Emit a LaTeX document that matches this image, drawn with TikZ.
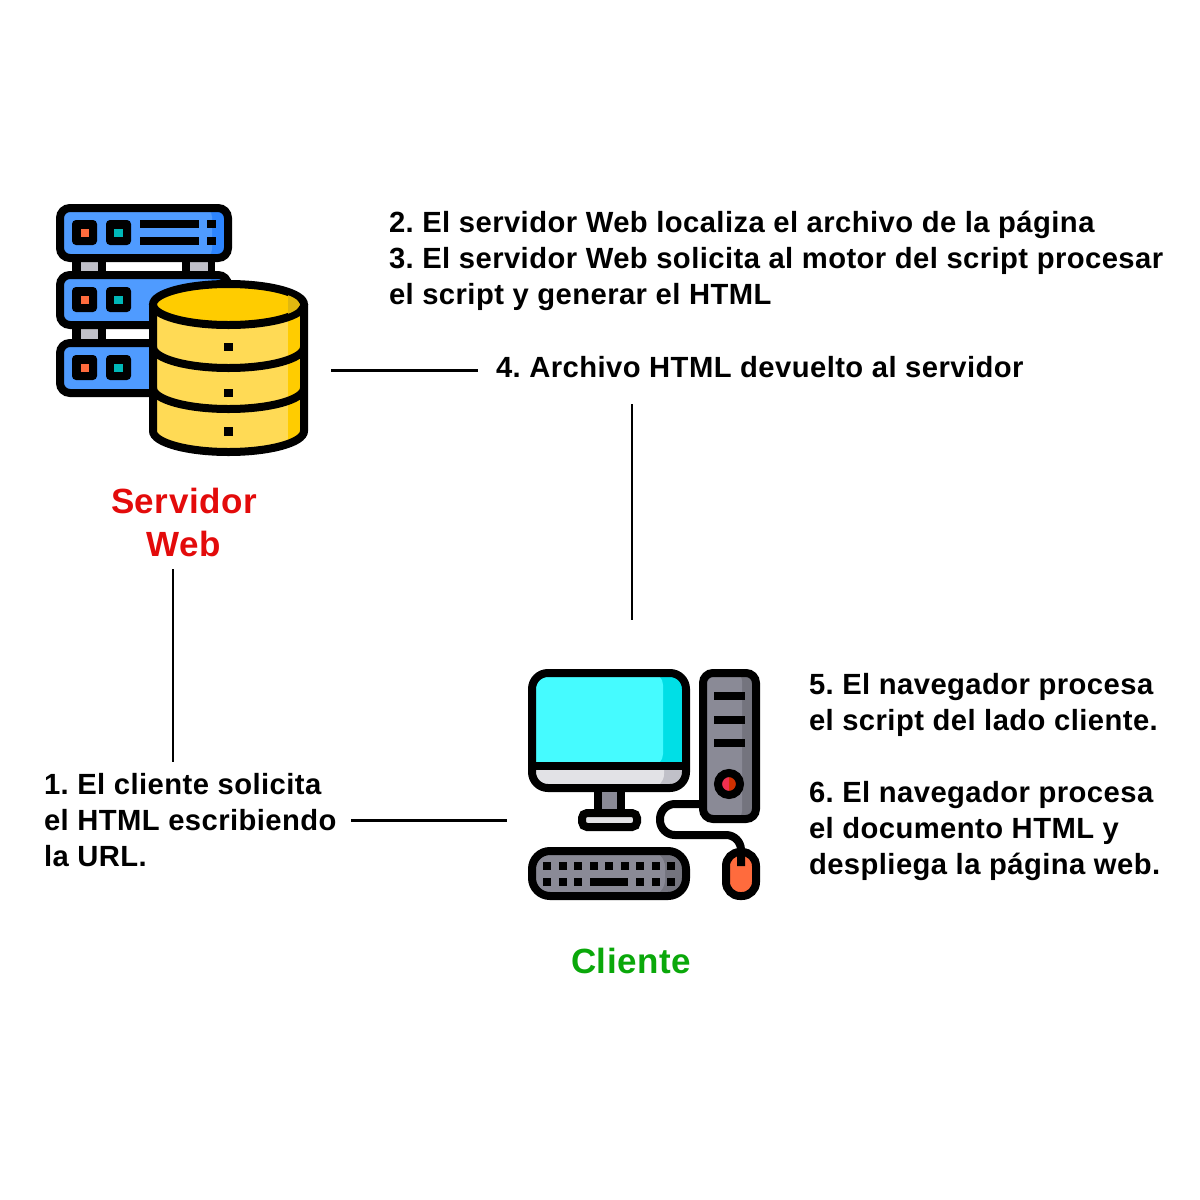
\documentclass[tikz,border=0pt]{standalone}
\usepackage{fontspec}
\setmainfont[LetterSpace=1.5]{Liberation Sans}
\definecolor{rackblue}{HTML}{4F9BFF}
\definecolor{rackdark}{HTML}{2D85FF}
\definecolor{dbtop}{HTML}{FFCC00}
\definecolor{dbshade}{HTML}{E0B810}
\definecolor{dbbody}{HTML}{FFDA55}
\definecolor{screencyan}{HTML}{45FBFF}
\definecolor{screendark}{HTML}{00DFE6}
\definecolor{pcgrey}{HTML}{8A8A96}
\definecolor{pcdark}{HTML}{74747E}
\definecolor{pclight}{HTML}{E2E2E6}
\definecolor{pcmid}{HTML}{C0C0C8}
\definecolor{ledred}{HTML}{F03050}
\definecolor{leddark}{HTML}{D03000}
\definecolor{ledorange}{HTML}{FF6B3D}
\definecolor{ledteal}{HTML}{00B8B8}
\definecolor{titlered}{HTML}{E30B0B}
\definecolor{titlegreen}{HTML}{0AA80A}
\frenchspacing
\begin{document}
\begin{tikzpicture}[x=1pt, y=-1pt,
      every node/.style = {inner sep=0pt, outer sep=0pt},
      step text/.style = {anchor=north west, align=left, font=\fontsize{29.2}{36}\selectfont\bfseries},
      title/.style = {anchor=north, align=center, font=\fontsize{35}{43}\selectfont\bfseries},
      link/.style = {line width=2.8pt},
      outline/.style = {line width=8pt, draw=black},
      solid key/.style = {fill=black}]
    \useasboundingbox (0, 0) rectangle (1200, 1200);

    % server racks
    \fill[black] (72, 262) rectangle (106, 271);
    \fill[black] (182, 262) rectangle (215, 271);
    \fill[black] (72, 329) rectangle (106, 339);
    \fill[pcmid] (81, 262) rectangle (98, 271);
    \fill[pcmid] (190, 262) rectangle (208, 271);
    \fill[pcmid] (81, 329) rectangle (98, 339);
    \foreach \top in {204, 271, 339} {
      \fill[rackdark, rounded corners=9] (60, \top+4) rectangle (228, \top+54);
      \fill[rackblue, rounded corners=9] (60, \top+4) rectangle (212, \top+54);
      \draw[outline, rounded corners=10] (60, \top+4) rectangle (228, \top+54);
      \fill[black, rounded corners=4] (72, \top+16) rectangle (97, \top+41);
      \fill[black, rounded corners=4] (106, \top+16) rectangle (131, \top+41);
      \fill[ledorange] (81, \top+25) rectangle (89, \top+33);
      \fill[ledteal] (114, \top+25) rectangle (123, \top+33);
    }
    \fill[solid key] (140, 220) rectangle (199, 228);
    \fill[solid key] (140, 237) rectangle (199, 245);
    \fill[solid key] (207, 220) rectangle (216, 228);
    \fill[solid key] (207, 237) rectangle (216, 245);

    % database
    \path[fill=dbbody] (153, 304) -- (153, 431) arc[start angle=180, end angle=0, x radius=75.5, y radius=21]
      -- (304, 304) -- cycle;
    \path[fill=dbtop] (288, 320) -- (288, 446) -- (300, 440) -- (300, 310) -- cycle;
    \draw[outline, fill=dbtop] (228.5, 304.5) ellipse[x radius=75.5, y radius=20.5];
    \begin{scope}
      \clip (228.5, 304.5) ellipse[x radius=71, y radius=17];
      \fill[dbshade] (288, 285) rectangle (304, 325);
    \end{scope}
    \draw[outline] (153, 304) -- (153, 431) arc[start angle=180, end angle=0, x radius=75.5, y radius=21] -- (304, 304);
    \draw[outline] (153, 347) arc[start angle=180, end angle=0, x radius=75.5, y radius=21];
    \draw[outline] (153, 388) arc[start angle=180, end angle=0, x radius=75.5, y radius=21];
    \fill[solid key] (224, 343) rectangle (233, 351);
    \fill[solid key] (224, 389) rectangle (233, 397);
    \fill[solid key] (224, 427) rectangle (233, 436);

    % monitor
    \fill[pcmid, rounded corners=14] (532, 673) rectangle (686, 788);
    \fill[pclight, rounded corners=14] (532, 673) rectangle (664, 788);
    \fill[screendark, rounded corners=14] (532, 673) -- (686, 673) -- (686, 766) -- (532, 766) -- cycle;
    \fill[screencyan, rounded corners=12] (532, 673) -- (663, 673) -- (663, 766) -- (532, 766) -- cycle;
    \fill[screencyan] (532, 700) rectangle (650, 766);
    \draw[outline, rounded corners=16] (532, 673) rectangle (686, 788);
    \draw[outline] (532, 766) -- (686, 766);
    \fill[pcgrey, draw=black, line width=8pt] (598, 788) rectangle (621, 813);
    \fill[pclight, draw=black, line width=8pt, rounded corners=5] (582, 813) rectangle (637, 827);

    % tower
    \fill[pcdark, rounded corners=8] (703, 673) rectangle (756, 819);
    \fill[pcgrey, rounded corners=8] (703, 673) rectangle (742, 819);
    \draw[outline, rounded corners=10] (703, 673) rectangle (756, 819);
    \foreach \top in {692, 716, 739}
      \fill[solid key] (714, \top) rectangle (745, \top+8);
    \fill[ledred] (729, 784) circle (9);
    \fill[leddark] (729, 775) arc[start angle=-90, end angle=90, radius=9] -- cycle;
    \draw[outline] (729, 784) circle (11);

    % cable and mouse
    \fill[ledorange, rounded corners=13] (726, 852) rectangle (756, 896);
    \draw[outline, rounded corners=14] (726, 852) rectangle (756, 896);
    \draw[outline, rounded corners=15] (703, 804) -- (660, 804) -- (660, 835) -- (741, 835) -- (741, 866);

    % keyboard
    \fill[pcdark, rounded corners=16] (532, 851) rectangle (686, 896);
    \fill[pcgrey, rounded corners=16] (532, 851) rectangle (665, 896);
    \draw[outline, rounded corners=18] (532, 851) rectangle (686, 896);
    \foreach \col in {0, ..., 8}
      \fill[solid key] (543+\col*15.5, 862) rectangle (551+\col*15.5, 870);
    \foreach \col in {0, 1, 2, 6, 7, 8}
      \fill[solid key] (543+\col*15.5, 878) rectangle (551+\col*15.5, 886);
    \fill[solid key] (590, 878) rectangle (628, 886);

    % titles
    \node[title, text=titlered] (servidor) at (184, 488) {Servidor\\Web};
    \node[title, text=titlegreen] (cliente) at (631, 948) {Cliente};

    % step texts
    \node[step text] (paso23) at (389, 211) {2. El servidor Web localiza el archivo de la página\\3. El servidor Web solicita al motor del script procesar\\el script y generar el HTML};
    \node[step text] (paso4) at (496, 356) {4. Archivo HTML devuelto al servidor};
    \node[step text] (paso1) at (44, 773) {1. El cliente solicita\\el HTML escribiendo\\la URL.};
    \node[step text] (paso5) at (809, 673) {5. El navegador procesa\\el script del lado cliente.};
    \node[step text] (paso6) at (809, 781) {6. El navegador procesa\\el documento HTML y\\despliega la página web.};

    % connector ends
    \coordinate (dbout) at (331, 370.5);
    \coordinate (paso4in) at (478, 370.5);
    \coordinate (paso4out) at (632, 404);
    \coordinate (pcin) at (632, 620);
    \coordinate (webout) at (173, 569);
    \coordinate (paso1in) at (173, 762);
    \coordinate (paso1out) at (351, 820.5);
    \coordinate (pcout) at (507, 820.5);

    % connectors
    \draw[link] (dbout) to (paso4in);
    \draw[link] (paso4out) to (pcin);
    \draw[link] (webout) to (paso1in);
    \draw[link] (paso1out) to (pcout);
  \end{tikzpicture}
\end{document}
